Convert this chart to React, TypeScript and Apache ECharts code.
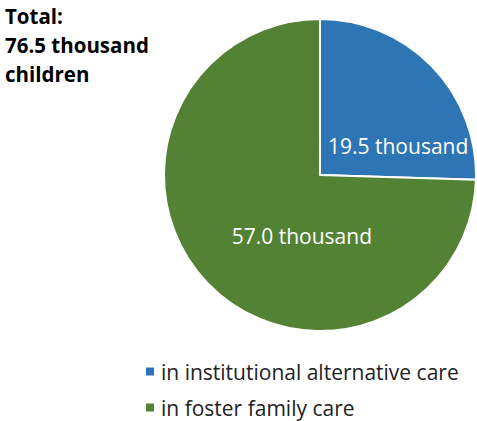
import React, { useEffect, useRef } from "react";
import * as echarts from "echarts";

const categories = ["in institutional alternative care", "in foster family care"];
const values = [19.5, 57.0];
const colors = ["#2E75B6", "#548235"];
const titleLines = ["Total:", "76.5 thousand", "children"];
const labelOffsets: [number, number][] = [
  [20, 27],
  [40, 5],
];

const FONT = "'Open Sans', sans-serif";

export default function App() {
  const ref = useRef<HTMLDivElement>(null);
  useEffect(() => {
    if (!ref.current) return;
    const chart = echarts.init(ref.current, undefined, { renderer: "svg" });
    const legendTops = [356, 392];
    chart.setOption({
      animation: false,
      backgroundColor: "#ffffff",
      title: {
        text: titleLines.join("\n"),
        left: 0,
        top: -4,
        textStyle: {
          fontFamily: FONT,
          fontWeight: "bold",
          fontSize: 20.5,
          lineHeight: 29,
          color: "#000000",
        },
      },
      legend: categories.map((name, i) => ({
        orient: "vertical",
        left: 139,
        top: legendTops[i],
        itemWidth: 10,
        itemHeight: 10,
        icon: "rect",
        data: [name],
        textStyle: { fontFamily: FONT, fontSize: 21, color: "#222222", padding: [0, 0, 0, 1] },
      })),
      series: [
        {
          type: "pie",
          center: [320, 175],
          radius: 156,
          startAngle: 90,
          clockwise: true,
          avoidLabelOverlap: false,
          itemStyle: { borderColor: "#ffffff", borderWidth: 2 },
          label: {
            show: true,
            position: "inside",
            formatter: (p: any) => `${p.value.toFixed(1)} thousand`,
            color: "#ffffff",
            fontFamily: FONT,
            fontSize: 21,
          },
          labelLine: { show: false },
          emphasis: { disabled: true },
          data: categories.map((name, i) => ({
            name,
            value: values[i],
            itemStyle: { color: colors[i] },
            label: { offset: labelOffsets[i] },
          })),
        },
      ],
    });
    return () => chart.dispose();
  }, []);
  return (
    <div
      ref={ref}
      style={{ position: "absolute", left: 0, top: 0, width: 477, height: 421 }}
    />
  );
}
